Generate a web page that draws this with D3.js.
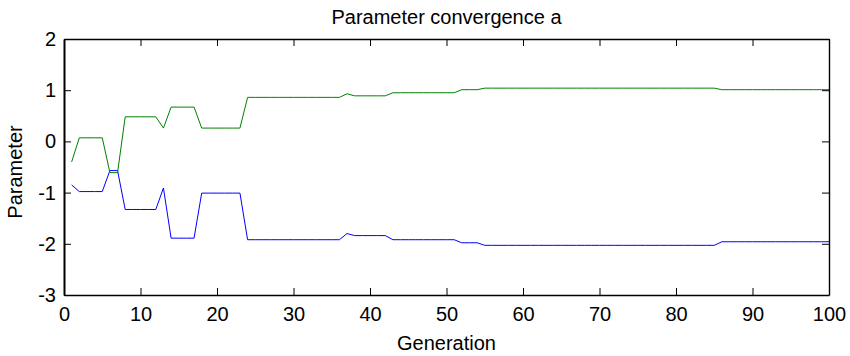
<!DOCTYPE html>
<html>
<head>
<meta charset="utf-8">
<script src="https://cdn.jsdelivr.net/npm/d3@7"></script>
<style>
  body { margin: 0; background: #fff; }
  text { font-family: "Liberation Sans", Arial, sans-serif; fill: #000; }
</style>
</head>
<body>
<div id="chart"></div>
<script>
// generation numbers (x)
const generations = d3.range(1, 101);

// parameter a, first component (green)
const paramGreen = [
  -0.40, 0.07, 0.07, 0.07, 0.07, -0.61, -0.61, 0.48, 0.48, 0.48,
  0.48, 0.48, 0.26, 0.67, 0.67, 0.67, 0.67, 0.26, 0.26, 0.26,
  0.26, 0.26, 0.26, 0.86, 0.86, 0.86, 0.86, 0.86, 0.86, 0.86,
  0.86, 0.86, 0.86, 0.86, 0.86, 0.86, 0.93, 0.89, 0.89, 0.89,
  0.89, 0.89, 0.95, 0.95, 0.95, 0.95, 0.95, 0.95, 0.95, 0.95,
  0.95, 1.01, 1.01, 1.01, 1.04, 1.04, 1.04, 1.04, 1.04, 1.04,
  1.04, 1.04, 1.04, 1.04, 1.04, 1.04, 1.04, 1.04, 1.04, 1.04,
  1.04, 1.04, 1.04, 1.04, 1.04, 1.04, 1.04, 1.04, 1.04, 1.04,
  1.04, 1.04, 1.04, 1.04, 1.04, 1.01, 1.01, 1.01, 1.01, 1.01,
  1.01, 1.01, 1.01, 1.01, 1.01, 1.01, 1.01, 1.01, 1.01, 1.01
];

// parameter a, second component (blue)
const paramBlue = [
  -0.85, -0.98, -0.98, -0.98, -0.98, -0.57, -0.57, -1.33, -1.33, -1.33,
  -1.33, -1.33, -0.91, -1.89, -1.89, -1.89, -1.89, -1.01, -1.01, -1.01,
  -1.01, -1.01, -1.01, -1.92, -1.92, -1.92, -1.92, -1.92, -1.92, -1.92,
  -1.92, -1.92, -1.92, -1.92, -1.92, -1.92, -1.80, -1.84, -1.84, -1.84,
  -1.84, -1.84, -1.92, -1.92, -1.92, -1.92, -1.92, -1.92, -1.92, -1.92,
  -1.92, -1.98, -1.98, -1.98, -2.03, -2.03, -2.03, -2.03, -2.03, -2.03,
  -2.03, -2.03, -2.03, -2.03, -2.03, -2.03, -2.03, -2.03, -2.03, -2.03,
  -2.03, -2.03, -2.03, -2.03, -2.03, -2.03, -2.03, -2.03, -2.03, -2.03,
  -2.03, -2.03, -2.03, -2.03, -2.03, -1.96, -1.96, -1.96, -1.96, -1.96,
  -1.96, -1.96, -1.96, -1.96, -1.96, -1.96, -1.96, -1.96, -1.96, -1.96
];

const xTicks = [0, 10, 20, 30, 40, 50, 60, 70, 80, 90, 100];
const yTicks = [-3, -2, -1, 0, 1, 2];

const width = 850;
const height = 356;
const margin = { top: 39, right: 21, bottom: 61, left: 64 };
const innerW = width - margin.left - margin.right;
const innerH = height - margin.top - margin.bottom;

const svg = d3.select('#chart')
  .append('svg')
  .attr('width', width)
  .attr('height', height);

const x = d3.scaleLinear().domain([0, 100]).range([0, innerW]);
const y = d3.scaleLinear().domain([-3, 2]).range([innerH, 0]);

const g = svg.append('g').attr('transform', `translate(${margin.left},${margin.top})`);

// series lines
const line = d3.line()
  .x((d, i) => x(generations[i]))
  .y(d => y(d));

g.append('path')
  .datum(paramBlue)
  .attr('fill', 'none')
  .attr('stroke', '#0000ff')
  .attr('stroke-width', 1)
  .attr('d', line);

g.append('path')
  .datum(paramGreen)
  .attr('fill', 'none')
  .attr('stroke', '#008000')
  .attr('stroke-width', 1)
  .attr('d', line);

// axes, ticks point inward like matlab; plain hyphen for negatives
const tickLen = 7;
const fmt = d => String(d);

const axBottom = g.append('g')
  .attr('transform', `translate(0,${innerH})`)
  .call(d3.axisBottom(x).tickValues(xTicks).tickFormat(fmt).tickSizeInner(-tickLen).tickSizeOuter(0).tickPadding(12));

const axTop = g.append('g')
  .call(d3.axisTop(x).tickValues(xTicks).tickSizeInner(-tickLen).tickSizeOuter(0).tickFormat(''));

const axLeft = g.append('g')
  .call(d3.axisLeft(y).tickValues(yTicks).tickFormat(fmt).tickSizeInner(-tickLen).tickSizeOuter(0).tickPadding(8));

const axRight = g.append('g')
  .attr('transform', `translate(${innerW},0)`)
  .call(d3.axisRight(y).tickValues(yTicks).tickSizeInner(-tickLen).tickSizeOuter(0).tickFormat(''));

[axBottom, axTop, axLeft, axRight].forEach(a => {
  a.selectAll('.domain').attr('stroke', '#000').attr('stroke-width', 1.4);
  a.selectAll('.tick line').attr('stroke', '#000').attr('stroke-width', 1);
  a.selectAll('text').attr('font-size', 20).attr('font-family', '"Liberation Sans", Arial, sans-serif').attr('fill', '#000');
});
axLeft.select('.domain').attr('stroke-width', 2);
axBottom.selectAll('.tick text').attr('dy', '0.71em');

// title and axis labels
svg.append('text')
  .attr('x', margin.left + innerW / 2)
  .attr('y', 24)
  .attr('text-anchor', 'middle')
  .attr('font-size', 20)
  .text('Parameter convergence a');

svg.append('text')
  .attr('x', margin.left + innerW / 2)
  .attr('y', 350)
  .attr('text-anchor', 'middle')
  .attr('font-size', 20)
  .text('Generation');

svg.append('text')
  .attr('transform', `translate(22,${margin.top + innerH / 2 + 5}) rotate(-90)`)
  .attr('text-anchor', 'middle')
  .attr('font-size', 20)
  .text('Parameter');
</script>
</body>
</html>
